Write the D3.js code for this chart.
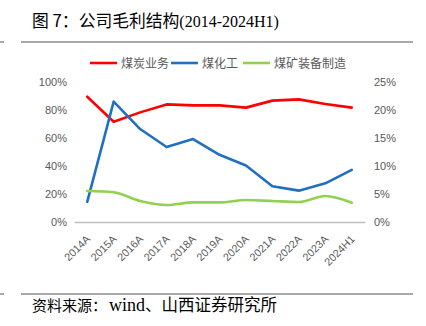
<!DOCTYPE html>
<html><head><meta charset="utf-8">
<script src="https://cdn.jsdelivr.net/npm/d3@7/dist/d3.min.js"></script>
<style>body{margin:0;background:#fff}svg{display:block}</style>
</head><body>
<script>
const categories = ["2014A","2015A","2016A","2017A","2018A","2019A","2020A","2021A","2022A","2023A","2024H1"];
const coal = [89.5,71.6,78.3,84.0,83.3,83.3,81.7,86.7,87.6,84.3,81.7];        // left axis (%)
const coalChem = [3.6,21.5,16.6,13.4,14.8,12.0,10.1,6.4,5.6,6.9,9.3];          // right axis (%)
const equipment = [22.1,21.2,15.0,12.1,14.0,14.0,15.7,15.0,14.3,18.6,13.8];   // left axis (%)
const leftTicks = [0,20,40,60,80,100];
const rightTicks = [0,5,10,15,20,25];
const seriesNames = ["煤炭业务","煤化工","煤矿装备制造"];
const colors = ["#ff0000","#1f70c1","#92d050"];

const W = 426, H = 326;
const svg = d3.select("body").append("svg").attr("width", W).attr("height", H);
const cn = "'Noto Sans CJK SC', sans-serif";
const serif = "'Liberation Serif','Noto Sans CJK SC', serif";

// title
const t = svg.append("text").attr("x", 32).attr("y", 26.5).attr("fill", "#000");
t.append("tspan").attr("font-family", cn).attr("font-size", 16.8).text("图 7：公司毛利结构");
t.append("tspan").attr("font-family", serif).attr("font-size", 16).text("(2014-2024H1)");

svg.append("line").attr("x1", 21).attr("x2", 413).attr("y1", 42).attr("y2", 42).attr("stroke", "#555").attr("stroke-width", 1);
svg.append("line").attr("x1", 0).attr("x2", 4).attr("y1", 42).attr("y2", 42).attr("stroke", "#555").attr("stroke-width", 1);
svg.append("line").attr("x1", 21).attr("x2", 413).attr("y1", 294).attr("y2", 294).attr("stroke", "#555").attr("stroke-width", 1);
svg.append("line").attr("x1", 0).attr("x2", 4).attr("y1", 294).attr("y2", 294).attr("stroke", "#555").attr("stroke-width", 1);

const src = svg.append("text").attr("x", 32).attr("y", 310.5).attr("fill", "#000");
src.append("tspan").attr("font-family", cn).attr("font-size", 15).text("资料来源：");
src.append("tspan").attr("font-family", serif).attr("font-size", 18).attr("dx", 2).text("wind");
src.append("tspan").attr("font-family", cn).attr("font-size", 16.5).text("、山西证券研究所");

// scales
const x = d3.scaleBand().domain(categories).range([74, 365]);
const xc = d => x(d) + x.bandwidth() / 2;
const yL = d3.scaleLinear().domain([0, 100]).range([222, 82]);
const yR = d3.scaleLinear().domain([0, 25]).range([222, 82]);

// left axis
const gl = svg.append("g").attr("transform", "translate(70,0)")
  .call(d3.axisLeft(yL).tickValues(leftTicks).tickSize(0).tickPadding(3).tickFormat(d => d + "%"));
gl.select(".domain").remove();
gl.selectAll("text").attr("font-family", "'Liberation Sans', Arial, sans-serif").attr("font-size", 11).attr("fill", "#595959");

const gr = svg.append("g").attr("transform", "translate(371,0)")
  .call(d3.axisRight(yR).tickValues(rightTicks).tickSize(0).tickPadding(3).tickFormat(d => d + "%"));
gr.select(".domain").remove();
gr.selectAll("text").attr("font-family", "'Liberation Sans', Arial, sans-serif").attr("font-size", 11).attr("fill", "#595959");

// x axis
const gx = svg.append("g").attr("transform", "translate(0,222)")
  .call(d3.axisBottom(x).tickSize(0).tickPadding(0));
gx.select(".domain").attr("stroke", "#bfbfbf").attr("stroke-width", 1.5);
gx.selectAll("text").attr("font-family", "'Liberation Sans', Arial, sans-serif").attr("font-size", 10.8).attr("fill", "#595959")
  .attr("text-anchor", "end").attr("x", 0).attr("y", 0).attr("dy", "0.35em")
  .attr("transform", "translate(1,15) rotate(-45)");

// lines
const mk = (scale, curve) => d3.line().x((d, i) => xc(categories[i])).y(d => scale(d)).curve(curve);
const data = [
  {v: coal, s: yL, c: colors[0], curve: d3.curveLinear},
  {v: coalChem, s: yR, c: colors[1], curve: d3.curveLinear},
  {v: equipment, s: yL, c: colors[2], curve: d3.curveMonotoneX}
];
data.forEach(d => {
  svg.append("path").datum(d.v).attr("d", mk(d.s, d.curve)).attr("fill", "none")
    .attr("stroke", d.c).attr("stroke-width", 2.6).attr("stroke-linejoin", "round").attr("stroke-linecap", "round");
});

// legend
const legX = [90, 171, 243];
seriesNames.forEach((n, i) => {
  svg.append("line").attr("x1", legX[i]).attr("x2", legX[i] + 27).attr("y1", 63).attr("y2", 63)
    .attr("stroke", colors[i]).attr("stroke-width", 2.6);
  svg.append("text").attr("x", legX[i] + 31).attr("y", 67.5).attr("font-family", cn).attr("font-size", 12)
    .attr("fill", "#595959").text(n);
});
</script>
</body></html>
